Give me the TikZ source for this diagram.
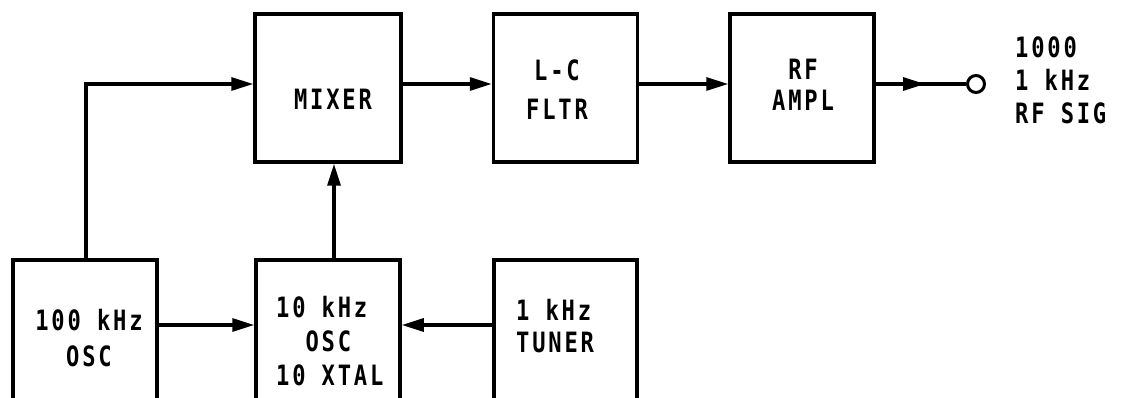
\documentclass[tikz,border=0pt]{standalone}
\usepackage{fontspec}
\newfontfamily\lerfont[FakeStretch=0.79,LetterSpace=10]{DejaVu Sans Mono}
\usetikzlibrary{arrows.meta}
\begin{document}
\begin{tikzpicture}[x=1pt,y=-1pt,
  box/.style={draw, line width=3.5pt, inner sep=0pt, minimum height=148pt},
  txt/.style={font=\lerfont\bfseries\fontsize{28}{36}\selectfont, inner sep=0pt, align=center},
  conn/.style={line width=3.2pt},
  tip/.style={-{Triangle[length=22pt,width=13pt]}},
]
\useasboundingbox (0,0) rectangle (1125,398);
% boxes
\node[box, minimum width=146pt] (mixer) at (328,88) {};
\node[box, minimum width=144pt] (lcf) at (565.5,88) {};
\node[box, minimum width=144pt] (rfa) at (802,88) {};
\node[box, minimum width=144pt] (osc100) at (85,334) {};
\node[box, minimum width=144pt] (osc10) at (328,334) {};
\node[box, minimum width=143pt] (tuner) at (565.5,334) {};
% texts
\node[txt] (tmixer) at (333,99) {MIXER};
\node[txt] (tlcf) at (557,89.5) {L-C\\[3pt]FLTR};
\node[txt] (trfa) at (803,85) {RF\\[-5pt]AMPL};
\node[txt] (tosc100) at (89,338) {100 kHz\\[0pt]OSC};
\node[txt, align=left, anchor=west] (tosc10) at (276,341) {10 kHz\\[-2pt]\hphantom{10}OSC\\[-2pt]10 XTAL};
\node[txt, align=left, anchor=west] (ttuner) at (516,326) {1 kHz\\[-4pt]TUNER};
\node[txt, anchor=west, align=left, font=\lerfont\bfseries\fontsize{28}{33}\selectfont] (sig) at (1015,80.5) {1000\\1 kHz\\RF SIG};
% output terminal
\node[circle, draw, line width=3pt, minimum size=17pt, inner sep=0pt] (out) at (976,84) {};
% connectors
\coordinate (ytop) at (0,84);
\coordinate (ybot) at (0,325);
\coordinate (xl) at (86,0);
\coordinate (xv) at (334,0);
\coordinate (mid) at (925,84);
\draw[conn,tip] (mixer.east |- ytop) -- (lcf.west |- ytop);
\draw[conn,tip] (lcf.east |- ytop) -- (rfa.west |- ytop);
\draw[conn] (rfa.east |- ytop) -- (out.west);
\draw[conn,tip] (rfa.east |- ytop) -- (mid);
\draw[conn,tip] (osc100.north -| xl) |- (mixer.west |- ytop);
\draw[conn,tip] (osc10.north -| xv) -- (mixer.south -| xv);
\draw[conn,tip] (osc100.east |- ybot) -- (osc10.west |- ybot);
\draw[conn,tip] (tuner.west |- ybot) -- (osc10.east |- ybot);
\end{tikzpicture}
\end{document}
